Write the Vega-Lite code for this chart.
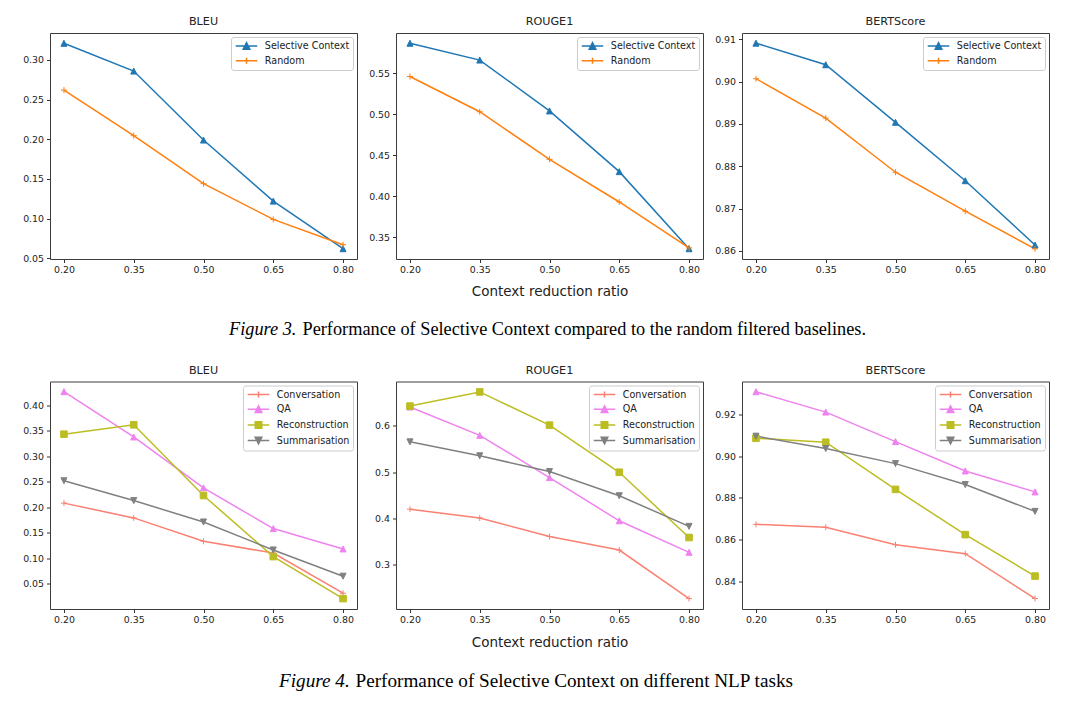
{
  "$schema": "https://vega.github.io/schema/vega-lite/v6.json",
  "background": "white",
  "padding": {"left": 22, "top": 15, "right": 5, "bottom": 5},
  "datasets": {
    "fig3": [
      {"metric": "BLEU", "method": "Selective Context", "ratio": 0.2, "value": 0.321},
      {"metric": "BLEU", "method": "Selective Context", "ratio": 0.35, "value": 0.286},
      {"metric": "BLEU", "method": "Selective Context", "ratio": 0.5, "value": 0.199},
      {"metric": "BLEU", "method": "Selective Context", "ratio": 0.65, "value": 0.122},
      {"metric": "BLEU", "method": "Selective Context", "ratio": 0.8, "value": 0.062},
      {"metric": "BLEU", "method": "Random", "ratio": 0.2, "value": 0.262},
      {"metric": "BLEU", "method": "Random", "ratio": 0.35, "value": 0.2045},
      {"metric": "BLEU", "method": "Random", "ratio": 0.5, "value": 0.144},
      {"metric": "BLEU", "method": "Random", "ratio": 0.65, "value": 0.099},
      {"metric": "BLEU", "method": "Random", "ratio": 0.8, "value": 0.067},
      {"metric": "ROUGE1", "method": "Selective Context", "ratio": 0.2, "value": 0.5865},
      {"metric": "ROUGE1", "method": "Selective Context", "ratio": 0.35, "value": 0.566},
      {"metric": "ROUGE1", "method": "Selective Context", "ratio": 0.5, "value": 0.504},
      {"metric": "ROUGE1", "method": "Selective Context", "ratio": 0.65, "value": 0.43},
      {"metric": "ROUGE1", "method": "Selective Context", "ratio": 0.8, "value": 0.336},
      {"metric": "ROUGE1", "method": "Random", "ratio": 0.2, "value": 0.546},
      {"metric": "ROUGE1", "method": "Random", "ratio": 0.35, "value": 0.503},
      {"metric": "ROUGE1", "method": "Random", "ratio": 0.5, "value": 0.445},
      {"metric": "ROUGE1", "method": "Random", "ratio": 0.65, "value": 0.393},
      {"metric": "ROUGE1", "method": "Random", "ratio": 0.8, "value": 0.337},
      {"metric": "BERTScore", "method": "Selective Context", "ratio": 0.2, "value": 0.9091},
      {"metric": "BERTScore", "method": "Selective Context", "ratio": 0.35, "value": 0.904},
      {"metric": "BERTScore", "method": "Selective Context", "ratio": 0.5, "value": 0.8904},
      {"metric": "BERTScore", "method": "Selective Context", "ratio": 0.65, "value": 0.8766},
      {"metric": "BERTScore", "method": "Selective Context", "ratio": 0.8, "value": 0.8614},
      {"metric": "BERTScore", "method": "Random", "ratio": 0.2, "value": 0.9007},
      {"metric": "BERTScore", "method": "Random", "ratio": 0.35, "value": 0.8914},
      {"metric": "BERTScore", "method": "Random", "ratio": 0.5, "value": 0.8786},
      {"metric": "BERTScore", "method": "Random", "ratio": 0.65, "value": 0.8694},
      {"metric": "BERTScore", "method": "Random", "ratio": 0.8, "value": 0.8605}
    ],
    "fig4": [
      {"metric": "BLEU", "method": "Conversation", "ratio": 0.2, "value": 0.208},
      {"metric": "BLEU", "method": "Conversation", "ratio": 0.35, "value": 0.179},
      {"metric": "BLEU", "method": "Conversation", "ratio": 0.5, "value": 0.133},
      {"metric": "BLEU", "method": "Conversation", "ratio": 0.65, "value": 0.11},
      {"metric": "BLEU", "method": "Conversation", "ratio": 0.8, "value": 0.031},
      {"metric": "BLEU", "method": "QA", "ratio": 0.2, "value": 0.427},
      {"metric": "BLEU", "method": "QA", "ratio": 0.35, "value": 0.338},
      {"metric": "BLEU", "method": "QA", "ratio": 0.5, "value": 0.238},
      {"metric": "BLEU", "method": "QA", "ratio": 0.65, "value": 0.158},
      {"metric": "BLEU", "method": "QA", "ratio": 0.8, "value": 0.118},
      {"metric": "BLEU", "method": "Reconstruction", "ratio": 0.2, "value": 0.3435},
      {"metric": "BLEU", "method": "Reconstruction", "ratio": 0.35, "value": 0.362},
      {"metric": "BLEU", "method": "Reconstruction", "ratio": 0.5, "value": 0.223},
      {"metric": "BLEU", "method": "Reconstruction", "ratio": 0.65, "value": 0.103},
      {"metric": "BLEU", "method": "Reconstruction", "ratio": 0.8, "value": 0.0205},
      {"metric": "BLEU", "method": "Summarisation", "ratio": 0.2, "value": 0.252},
      {"metric": "BLEU", "method": "Summarisation", "ratio": 0.35, "value": 0.213},
      {"metric": "BLEU", "method": "Summarisation", "ratio": 0.5, "value": 0.171},
      {"metric": "BLEU", "method": "Summarisation", "ratio": 0.65, "value": 0.116},
      {"metric": "BLEU", "method": "Summarisation", "ratio": 0.8, "value": 0.0645},
      {"metric": "ROUGE1", "method": "Conversation", "ratio": 0.2, "value": 0.42},
      {"metric": "ROUGE1", "method": "Conversation", "ratio": 0.35, "value": 0.401},
      {"metric": "ROUGE1", "method": "Conversation", "ratio": 0.5, "value": 0.361},
      {"metric": "ROUGE1", "method": "Conversation", "ratio": 0.65, "value": 0.332},
      {"metric": "ROUGE1", "method": "Conversation", "ratio": 0.8, "value": 0.2275},
      {"metric": "ROUGE1", "method": "QA", "ratio": 0.2, "value": 0.64},
      {"metric": "ROUGE1", "method": "QA", "ratio": 0.35, "value": 0.579},
      {"metric": "ROUGE1", "method": "QA", "ratio": 0.5, "value": 0.488},
      {"metric": "ROUGE1", "method": "QA", "ratio": 0.65, "value": 0.395},
      {"metric": "ROUGE1", "method": "QA", "ratio": 0.8, "value": 0.327},
      {"metric": "ROUGE1", "method": "Reconstruction", "ratio": 0.2, "value": 0.642},
      {"metric": "ROUGE1", "method": "Reconstruction", "ratio": 0.35, "value": 0.6725},
      {"metric": "ROUGE1", "method": "Reconstruction", "ratio": 0.5, "value": 0.601},
      {"metric": "ROUGE1", "method": "Reconstruction", "ratio": 0.65, "value": 0.4995},
      {"metric": "ROUGE1", "method": "Reconstruction", "ratio": 0.8, "value": 0.359},
      {"metric": "ROUGE1", "method": "Summarisation", "ratio": 0.2, "value": 0.565},
      {"metric": "ROUGE1", "method": "Summarisation", "ratio": 0.35, "value": 0.535},
      {"metric": "ROUGE1", "method": "Summarisation", "ratio": 0.5, "value": 0.501},
      {"metric": "ROUGE1", "method": "Summarisation", "ratio": 0.65, "value": 0.449},
      {"metric": "ROUGE1", "method": "Summarisation", "ratio": 0.8, "value": 0.383},
      {"metric": "BERTScore", "method": "Conversation", "ratio": 0.2, "value": 0.8674},
      {"metric": "BERTScore", "method": "Conversation", "ratio": 0.35, "value": 0.866},
      {"metric": "BERTScore", "method": "Conversation", "ratio": 0.5, "value": 0.8577},
      {"metric": "BERTScore", "method": "Conversation", "ratio": 0.65, "value": 0.8534},
      {"metric": "BERTScore", "method": "Conversation", "ratio": 0.8, "value": 0.832},
      {"metric": "BERTScore", "method": "QA", "ratio": 0.2, "value": 0.9307},
      {"metric": "BERTScore", "method": "QA", "ratio": 0.35, "value": 0.921},
      {"metric": "BERTScore", "method": "QA", "ratio": 0.5, "value": 0.9069},
      {"metric": "BERTScore", "method": "QA", "ratio": 0.65, "value": 0.8929},
      {"metric": "BERTScore", "method": "QA", "ratio": 0.8, "value": 0.8829},
      {"metric": "BERTScore", "method": "Reconstruction", "ratio": 0.2, "value": 0.9085},
      {"metric": "BERTScore", "method": "Reconstruction", "ratio": 0.35, "value": 0.9066},
      {"metric": "BERTScore", "method": "Reconstruction", "ratio": 0.5, "value": 0.8841},
      {"metric": "BERTScore", "method": "Reconstruction", "ratio": 0.65, "value": 0.8625},
      {"metric": "BERTScore", "method": "Reconstruction", "ratio": 0.8, "value": 0.8427},
      {"metric": "BERTScore", "method": "Summarisation", "ratio": 0.2, "value": 0.9095},
      {"metric": "BERTScore", "method": "Summarisation", "ratio": 0.35, "value": 0.9036},
      {"metric": "BERTScore", "method": "Summarisation", "ratio": 0.5, "value": 0.8964},
      {"metric": "BERTScore", "method": "Summarisation", "ratio": 0.65, "value": 0.8864},
      {"metric": "BERTScore", "method": "Summarisation", "ratio": 0.8, "value": 0.8736}
    ]
  },
  "resolve": {"scale": {"x": "independent", "y": "independent", "color": "independent"}},
  "spacing": 24.5,
  "vconcat": [
    {
      "bounds": "flush",
      "spacing": 39,
      "resolve": {"scale": {"x": "independent", "y": "independent", "color": "independent"}},
      "hconcat": [
        {
          "width": 307, "height": 226,
          "title": {"text": "BLEU"},
          "data": {"name": "fig3"},
          "transform": [{"filter": "datum.metric === 'BLEU'"}],
          "encoding": {
            "x": {"field": "ratio", "type": "quantitative", "scale": {"domain": [0.17, 0.83], "nice": false, "zero": false},
                  "axis": {"values": [0.2, 0.35, 0.5, 0.65, 0.8], "format": ".2f", "title": "Figure 3.", "titleX": 178.5, "titleY": 75.7, "titleAlign": "left", "titleBaseline": "alphabetic", "titleFont": "Liberation Serif", "titleFontSize": 18.3, "titleFontStyle": "italic", "titleColor": "#000"}},
            "y": {"field": "value", "type": "quantitative", "scale": {"domain": [0.049, 0.334], "nice": false, "zero": false},
                  "axis": {"values": [0.05, 0.1, 0.15, 0.2, 0.25, 0.3], "format": ".2f", "title": null}}
          },
          "layer": [
            {"mark": {"type": "line", "strokeWidth": 1.5},
             "encoding": {"color": {"field": "method", "type": "nominal", "scale": {"domain": ["Selective Context", "Random"], "range": ["#1f77b4", "#ff7f0e"]},
               "legend": {"title": null, "encode": {"symbols": {"update": {
                 "shape": {"signal": "datum.value === 'Random' ? 'M-2.15,0H2.15M0,-0.6V0.6' : 'M-2.15,0H2.15M0,-0.66L0.66,0.66L-0.66,0.66Z'"},
                 "fill": {"signal": "datum.value === 'Random' ? '#ff7f0e' : '#1f77b4'"},
                 "stroke": {"signal": "datum.value === 'Random' ? '#ff7f0e' : '#1f77b4'"},
                 "strokeWidth": {"value": 1.5}, "opacity": {"value": 1}}}}}}}},
            {"transform": [{"filter": "datum.method === 'Selective Context'"}],
             "mark": {"type": "point", "shape": "M0,-1L1,1L-1,1Z", "filled": true, "fill": "#1f77b4", "stroke": "#1f77b4", "size": 36, "strokeWidth": 1, "opacity": 1}, "encoding": {}},
            {"transform": [{"filter": "datum.method === 'Random'"}],
             "mark": {"type": "point", "shape": "M-1,0H1M0,-1V1", "filled": true, "fill": "#ff7f0e", "stroke": "#ff7f0e", "size": 36, "strokeWidth": 1, "opacity": 1}, "encoding": {}}
          ]
        },
        {
          "width": 307, "height": 226,
          "title": {"text": "ROUGE1"},
          "data": {"name": "fig3"},
          "transform": [{"filter": "datum.metric === 'ROUGE1'"}],
          "encoding": {
            "x": {"field": "ratio", "type": "quantitative", "scale": {"domain": [0.17, 0.83], "nice": false, "zero": false},
                  "axis": {"values": [0.2, 0.35, 0.5, 0.65, 0.8], "format": ".2f", "title": "Context reduction ratio", "titleY": 36, "titleBaseline": "alphabetic", "titleFontSize": 13.5}},
            "y": {"field": "value", "type": "quantitative", "scale": {"domain": [0.3235, 0.599], "nice": false, "zero": false},
                  "axis": {"values": [0.35, 0.4, 0.45, 0.5, 0.55], "format": ".2f", "title": null}}
          },
          "layer": [
            {"mark": {"type": "line", "strokeWidth": 1.5},
             "encoding": {"color": {"field": "method", "type": "nominal", "scale": {"domain": ["Selective Context", "Random"], "range": ["#1f77b4", "#ff7f0e"]},
               "legend": {"title": null, "encode": {"symbols": {"update": {
                 "shape": {"signal": "datum.value === 'Random' ? 'M-2.15,0H2.15M0,-0.6V0.6' : 'M-2.15,0H2.15M0,-0.66L0.66,0.66L-0.66,0.66Z'"},
                 "fill": {"signal": "datum.value === 'Random' ? '#ff7f0e' : '#1f77b4'"},
                 "stroke": {"signal": "datum.value === 'Random' ? '#ff7f0e' : '#1f77b4'"},
                 "strokeWidth": {"value": 1.5}, "opacity": {"value": 1}}}}}}}},
            {"transform": [{"filter": "datum.method === 'Selective Context'"}],
             "mark": {"type": "point", "shape": "M0,-1L1,1L-1,1Z", "filled": true, "fill": "#1f77b4", "stroke": "#1f77b4", "size": 36, "strokeWidth": 1, "opacity": 1}, "encoding": {}},
            {"transform": [{"filter": "datum.method === 'Random'"}],
             "mark": {"type": "point", "shape": "M-1,0H1M0,-1V1", "filled": true, "fill": "#ff7f0e", "stroke": "#ff7f0e", "size": 36, "strokeWidth": 1, "opacity": 1}, "encoding": {}}
          ]
        },
        {
          "width": 307, "height": 226,
          "title": {"text": "BERTScore"},
          "data": {"name": "fig3"},
          "transform": [{"filter": "datum.metric === 'BERTScore'"}],
          "encoding": {
            "x": {"field": "ratio", "type": "quantitative", "scale": {"domain": [0.17, 0.83], "nice": false, "zero": false},
                  "axis": {"values": [0.2, 0.35, 0.5, 0.65, 0.8], "format": ".2f", "title": "Performance of Selective Context compared to the random filtered baselines.", "titleX": -440, "titleY": 75.7, "titleAlign": "left", "titleBaseline": "alphabetic", "titleFont": "Liberation Serif", "titleFontSize": 18.3, "titleColor": "#000"}},
            "y": {"field": "value", "type": "quantitative", "scale": {"domain": [0.8581, 0.9115], "nice": false, "zero": false},
                  "axis": {"values": [0.86, 0.87, 0.88, 0.89, 0.9, 0.91], "format": ".2f", "title": null}}
          },
          "layer": [
            {"mark": {"type": "line", "strokeWidth": 1.5},
             "encoding": {"color": {"field": "method", "type": "nominal", "scale": {"domain": ["Selective Context", "Random"], "range": ["#1f77b4", "#ff7f0e"]},
               "legend": {"title": null, "encode": {"symbols": {"update": {
                 "shape": {"signal": "datum.value === 'Random' ? 'M-2.15,0H2.15M0,-0.6V0.6' : 'M-2.15,0H2.15M0,-0.66L0.66,0.66L-0.66,0.66Z'"},
                 "fill": {"signal": "datum.value === 'Random' ? '#ff7f0e' : '#1f77b4'"},
                 "stroke": {"signal": "datum.value === 'Random' ? '#ff7f0e' : '#1f77b4'"},
                 "strokeWidth": {"value": 1.5}, "opacity": {"value": 1}}}}}}}},
            {"transform": [{"filter": "datum.method === 'Selective Context'"}],
             "mark": {"type": "point", "shape": "M0,-1L1,1L-1,1Z", "filled": true, "fill": "#1f77b4", "stroke": "#1f77b4", "size": 36, "strokeWidth": 1, "opacity": 1}, "encoding": {}},
            {"transform": [{"filter": "datum.method === 'Random'"}],
             "mark": {"type": "point", "shape": "M-1,0H1M0,-1V1", "filled": true, "fill": "#ff7f0e", "stroke": "#ff7f0e", "size": 36, "strokeWidth": 1, "opacity": 1}, "encoding": {}}
          ]
        }
      ]
    },
    {
      "bounds": "flush",
      "spacing": 39,
      "resolve": {"scale": {"x": "independent", "y": "independent", "color": "independent"}},
      "hconcat": [
        {
          "width": 307, "height": 227.5,
          "title": {"text": "BLEU"},
          "data": {"name": "fig4"},
          "transform": [{"filter": "datum.metric === 'BLEU'"}],
          "encoding": {
            "x": {"field": "ratio", "type": "quantitative", "scale": {"domain": [0.17, 0.83], "nice": false, "zero": false},
                  "axis": {"values": [0.2, 0.35, 0.5, 0.65, 0.8], "format": ".2f", "title": "Figure 4.", "titleX": 228.5, "titleY": 77, "titleAlign": "left", "titleBaseline": "alphabetic", "titleFont": "Liberation Serif", "titleFontSize": 19.2, "titleFontStyle": "italic", "titleColor": "#000"}},
            "y": {"field": "value", "type": "quantitative", "scale": {"domain": [0.0, 0.447], "nice": false, "zero": false},
                  "axis": {"values": [0.05, 0.1, 0.15, 0.2, 0.25, 0.3, 0.35, 0.4], "format": ".2f", "title": null}}
          },
          "layer": [
            {"mark": {"type": "line", "strokeWidth": 1.5},
             "encoding": {"color": {"field": "method", "type": "nominal", "scale": {"domain": ["Conversation", "QA", "Reconstruction", "Summarisation"], "range": ["#fa8072", "#ee82ee", "#bcbd22", "#808080"]},
               "legend": {"title": null, "encode": {"symbols": {"update": {
                 "shape": {"signal": "datum.value === 'Conversation' ? 'M-2.15,0H2.15M0,-0.6V0.6' : datum.value === 'QA' ? 'M-2.15,0H2.15M0,-0.66L0.66,0.66L-0.66,0.66Z' : datum.value === 'Reconstruction' ? 'M-2.15,0H2.15M-0.65,-0.65H0.65V0.65H-0.65Z' : 'M-2.15,0H2.15M0,0.66L0.66,-0.66L-0.66,-0.66Z'"},
                 "fill": {"signal": "datum.value === 'Conversation' ? '#fa8072' : datum.value === 'QA' ? '#ee82ee' : datum.value === 'Reconstruction' ? '#bcbd22' : '#808080'"},
                 "stroke": {"signal": "datum.value === 'Conversation' ? '#fa8072' : datum.value === 'QA' ? '#ee82ee' : datum.value === 'Reconstruction' ? '#bcbd22' : '#808080'"},
                 "strokeWidth": {"value": 1.5}, "opacity": {"value": 1}}}}}}}},
            {"transform": [{"filter": "datum.method === 'Conversation'"}],
             "mark": {"type": "point", "shape": "M-1,0H1M0,-1V1", "filled": true, "fill": "#fa8072", "stroke": "#fa8072", "size": 36, "strokeWidth": 1, "opacity": 1}, "encoding": {}},
            {"transform": [{"filter": "datum.method === 'QA'"}],
             "mark": {"type": "point", "shape": "M0,-1L1,1L-1,1Z", "filled": true, "fill": "#ee82ee", "stroke": "#ee82ee", "size": 36, "strokeWidth": 1, "opacity": 1}, "encoding": {}},
            {"transform": [{"filter": "datum.method === 'Reconstruction'"}],
             "mark": {"type": "point", "shape": "M-1.1,-1.1H1.1V1.1H-1.1Z", "filled": true, "fill": "#bcbd22", "stroke": "#bcbd22", "size": 36, "strokeWidth": 1, "opacity": 1}, "encoding": {}},
            {"transform": [{"filter": "datum.method === 'Summarisation'"}],
             "mark": {"type": "point", "shape": "M0,1L1,-1L-1,-1Z", "filled": true, "fill": "#808080", "stroke": "#808080", "size": 36, "strokeWidth": 1, "opacity": 1}, "encoding": {}}
          ]
        },
        {
          "width": 307, "height": 227.5,
          "title": {"text": "ROUGE1"},
          "data": {"name": "fig4"},
          "transform": [{"filter": "datum.metric === 'ROUGE1'"}],
          "encoding": {
            "x": {"field": "ratio", "type": "quantitative", "scale": {"domain": [0.17, 0.83], "nice": false, "zero": false},
                  "axis": {"values": [0.2, 0.35, 0.5, 0.65, 0.8], "format": ".2f", "title": "Context reduction ratio", "titleY": 37, "titleBaseline": "alphabetic", "titleFontSize": 13.5}},
            "y": {"field": "value", "type": "quantitative", "scale": {"domain": [0.205, 0.695], "nice": false, "zero": false},
                  "axis": {"values": [0.3, 0.4, 0.5, 0.6], "format": ".1f", "title": null}}
          },
          "layer": [
            {"mark": {"type": "line", "strokeWidth": 1.5},
             "encoding": {"color": {"field": "method", "type": "nominal", "scale": {"domain": ["Conversation", "QA", "Reconstruction", "Summarisation"], "range": ["#fa8072", "#ee82ee", "#bcbd22", "#808080"]},
               "legend": {"title": null, "encode": {"symbols": {"update": {
                 "shape": {"signal": "datum.value === 'Conversation' ? 'M-2.15,0H2.15M0,-0.6V0.6' : datum.value === 'QA' ? 'M-2.15,0H2.15M0,-0.66L0.66,0.66L-0.66,0.66Z' : datum.value === 'Reconstruction' ? 'M-2.15,0H2.15M-0.65,-0.65H0.65V0.65H-0.65Z' : 'M-2.15,0H2.15M0,0.66L0.66,-0.66L-0.66,-0.66Z'"},
                 "fill": {"signal": "datum.value === 'Conversation' ? '#fa8072' : datum.value === 'QA' ? '#ee82ee' : datum.value === 'Reconstruction' ? '#bcbd22' : '#808080'"},
                 "stroke": {"signal": "datum.value === 'Conversation' ? '#fa8072' : datum.value === 'QA' ? '#ee82ee' : datum.value === 'Reconstruction' ? '#bcbd22' : '#808080'"},
                 "strokeWidth": {"value": 1.5}, "opacity": {"value": 1}}}}}}}},
            {"transform": [{"filter": "datum.method === 'Conversation'"}],
             "mark": {"type": "point", "shape": "M-1,0H1M0,-1V1", "filled": true, "fill": "#fa8072", "stroke": "#fa8072", "size": 36, "strokeWidth": 1, "opacity": 1}, "encoding": {}},
            {"transform": [{"filter": "datum.method === 'QA'"}],
             "mark": {"type": "point", "shape": "M0,-1L1,1L-1,1Z", "filled": true, "fill": "#ee82ee", "stroke": "#ee82ee", "size": 36, "strokeWidth": 1, "opacity": 1}, "encoding": {}},
            {"transform": [{"filter": "datum.method === 'Reconstruction'"}],
             "mark": {"type": "point", "shape": "M-1.1,-1.1H1.1V1.1H-1.1Z", "filled": true, "fill": "#bcbd22", "stroke": "#bcbd22", "size": 36, "strokeWidth": 1, "opacity": 1}, "encoding": {}},
            {"transform": [{"filter": "datum.method === 'Summarisation'"}],
             "mark": {"type": "point", "shape": "M0,1L1,-1L-1,-1Z", "filled": true, "fill": "#808080", "stroke": "#808080", "size": 36, "strokeWidth": 1, "opacity": 1}, "encoding": {}}
          ]
        },
        {
          "width": 307, "height": 227.5,
          "title": {"text": "BERTScore"},
          "data": {"name": "fig4"},
          "transform": [{"filter": "datum.metric === 'BERTScore'"}],
          "encoding": {
            "x": {"field": "ratio", "type": "quantitative", "scale": {"domain": [0.17, 0.83], "nice": false, "zero": false},
                  "axis": {"values": [0.2, 0.35, 0.5, 0.65, 0.8], "format": ".2f", "title": "Performance of Selective Context on different NLP tasks", "titleX": -387, "titleY": 77, "titleAlign": "left", "titleBaseline": "alphabetic", "titleFont": "Liberation Serif", "titleFontSize": 19.2, "titleColor": "#000"}},
            "y": {"field": "value", "type": "quantitative", "scale": {"domain": [0.827, 0.9356], "nice": false, "zero": false},
                  "axis": {"values": [0.84, 0.86, 0.88, 0.9, 0.92], "format": ".2f", "title": null}}
          },
          "layer": [
            {"mark": {"type": "line", "strokeWidth": 1.5},
             "encoding": {"color": {"field": "method", "type": "nominal", "scale": {"domain": ["Conversation", "QA", "Reconstruction", "Summarisation"], "range": ["#fa8072", "#ee82ee", "#bcbd22", "#808080"]},
               "legend": {"title": null, "encode": {"symbols": {"update": {
                 "shape": {"signal": "datum.value === 'Conversation' ? 'M-2.15,0H2.15M0,-0.6V0.6' : datum.value === 'QA' ? 'M-2.15,0H2.15M0,-0.66L0.66,0.66L-0.66,0.66Z' : datum.value === 'Reconstruction' ? 'M-2.15,0H2.15M-0.65,-0.65H0.65V0.65H-0.65Z' : 'M-2.15,0H2.15M0,0.66L0.66,-0.66L-0.66,-0.66Z'"},
                 "fill": {"signal": "datum.value === 'Conversation' ? '#fa8072' : datum.value === 'QA' ? '#ee82ee' : datum.value === 'Reconstruction' ? '#bcbd22' : '#808080'"},
                 "stroke": {"signal": "datum.value === 'Conversation' ? '#fa8072' : datum.value === 'QA' ? '#ee82ee' : datum.value === 'Reconstruction' ? '#bcbd22' : '#808080'"},
                 "strokeWidth": {"value": 1.5}, "opacity": {"value": 1}}}}}}}},
            {"transform": [{"filter": "datum.method === 'Conversation'"}],
             "mark": {"type": "point", "shape": "M-1,0H1M0,-1V1", "filled": true, "fill": "#fa8072", "stroke": "#fa8072", "size": 36, "strokeWidth": 1, "opacity": 1}, "encoding": {}},
            {"transform": [{"filter": "datum.method === 'QA'"}],
             "mark": {"type": "point", "shape": "M0,-1L1,1L-1,1Z", "filled": true, "fill": "#ee82ee", "stroke": "#ee82ee", "size": 36, "strokeWidth": 1, "opacity": 1}, "encoding": {}},
            {"transform": [{"filter": "datum.method === 'Reconstruction'"}],
             "mark": {"type": "point", "shape": "M-1.1,-1.1H1.1V1.1H-1.1Z", "filled": true, "fill": "#bcbd22", "stroke": "#bcbd22", "size": 36, "strokeWidth": 1, "opacity": 1}, "encoding": {}},
            {"transform": [{"filter": "datum.method === 'Summarisation'"}],
             "mark": {"type": "point", "shape": "M0,1L1,-1L-1,-1Z", "filled": true, "fill": "#808080", "stroke": "#808080", "size": 36, "strokeWidth": 1, "opacity": 1}, "encoding": {}}
          ]
        }
      ]
    }
  ],
  "config": {
    "view": {"stroke": "#3c3c3c", "strokeWidth": 1},
    "title": {"font": "DejaVu Sans", "fontSize": 11.2, "fontWeight": "normal", "color": "#222", "offset": 5.5, "baseline": "alphabetic", "anchor": "middle"},
    "axis": {"domain": false, "grid": false, "ticks": true, "tickColor": "#333", "tickSize": 3.5, "tickWidth": 1,
             "labelFont": "DejaVu Sans", "labelFontSize": 9.4, "labelColor": "#222", "labelPadding": 3,
             "labelFlush": false, "labelOverlap": false, "labelBound": false,
             "titleFont": "DejaVu Sans", "titleFontWeight": "normal", "titleColor": "#222"},
    "axisX": {"labelAngle": 0},
    "legend": {"orient": "top-right", "offset": 4.3, "padding": 3, "strokeColor": "#cccccc", "fillColor": "rgba(255,255,255,0.8)", "cornerRadius": 2.5,
               "labelFont": "DejaVu Sans", "labelFontSize": 9.6, "labelColor": "#222", "symbolSize": 100, "rowPadding": 1.7,
               "symbolOffset": 6.5, "labelOffset": 12.3}
  }
}
